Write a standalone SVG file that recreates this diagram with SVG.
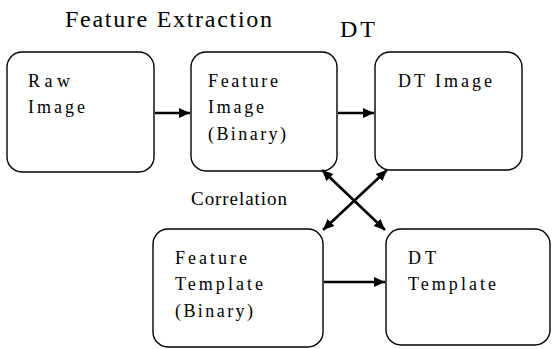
<svg xmlns="http://www.w3.org/2000/svg" width="552" height="349" viewBox="0 0 552 349">
<style>
.box{fill:#fff;stroke:#000;stroke-width:1.4}
text{font-family:'Liberation Serif','DejaVu Serif','Times New Roman',serif;fill:#000}
.t{font-size:18px}
.h{font-size:24px}
.c{font-size:19px}
.e{stroke:#000;stroke-width:2.6;fill:none}
</style>
<defs>
<marker id="ah" markerUnits="userSpaceOnUse" markerWidth="12" markerHeight="12" viewBox="0 0 12 12" refX="11" refY="6" orient="auto-start-reverse">
<path d="M0,1 L11,6 L0,11 Z" fill="#000"/>
</marker>
</defs>
<rect width="552" height="349" fill="#fff"/>
<text class="h" font-family="Liberation Serif, serif" x="65" y="27" textLength="207" lengthAdjust="spacing">Feature Extraction</text>
<text class="h" font-family="Liberation Serif, serif" x="340" y="37" textLength="35" lengthAdjust="spacing">DT</text>
<text class="c" font-family="Liberation Serif, serif" x="191" y="205" textLength="96" lengthAdjust="spacing">Correlation</text>
<g id="raw-image">
<rect class="box" x="7" y="52" width="147" height="120" rx="15"/>
<text class="t" font-family="Liberation Serif, serif" x="28" y="87" textLength="42" lengthAdjust="spacing">Raw</text>
<text class="t" font-family="Liberation Serif, serif" x="28" y="113" textLength="57" lengthAdjust="spacing">Image</text>
</g>
<g id="feature-image">
<rect class="box" x="191" y="52" width="146" height="119" rx="15"/>
<text class="t" font-family="Liberation Serif, serif" x="208" y="87" textLength="70" lengthAdjust="spacing">Feature</text>
<text class="t" font-family="Liberation Serif, serif" x="208" y="113" textLength="56" lengthAdjust="spacing">Image</text>
<text class="t" font-family="Liberation Serif, serif" x="208" y="140" textLength="78" lengthAdjust="spacing">(Binary)</text>
</g>
<g id="dt-image">
<rect class="box" x="375" y="52" width="147" height="118" rx="15"/>
<text class="t" font-family="Liberation Serif, serif" x="398" y="87" textLength="94" lengthAdjust="spacing">DT Image</text>
</g>
<g id="feature-template">
<rect class="box" x="153" y="229" width="170" height="118" rx="15"/>
<text class="t" font-family="Liberation Serif, serif" x="175" y="264" textLength="72" lengthAdjust="spacing">Feature</text>
<text class="t" font-family="Liberation Serif, serif" x="175" y="290" textLength="88" lengthAdjust="spacing">Template</text>
<text class="t" font-family="Liberation Serif, serif" x="175" y="317" textLength="78" lengthAdjust="spacing">(Binary)</text>
</g>
<g id="dt-template">
<rect class="box" x="386" y="229" width="164" height="116" rx="15"/>
<text class="t" font-family="Liberation Serif, serif" x="408" y="264" textLength="28" lengthAdjust="spacing">DT</text>
<text class="t" font-family="Liberation Serif, serif" x="408" y="290" textLength="88" lengthAdjust="spacing">Template</text>
</g>
<g id="connectors">
<line class="e" x1="155" y1="113" x2="190" y2="113" marker-end="url(#ah)"/>
<line class="e" x1="338" y1="113" x2="374" y2="113" marker-end="url(#ah)"/>
<line class="e" x1="324" y1="282" x2="385" y2="282" marker-end="url(#ah)"/>
<line class="e" x1="322" y1="170" x2="385" y2="230" marker-start="url(#ah)" marker-end="url(#ah)"/>
<line class="e" x1="387" y1="170" x2="323" y2="230" marker-start="url(#ah)" marker-end="url(#ah)"/>
</g>
</svg>
